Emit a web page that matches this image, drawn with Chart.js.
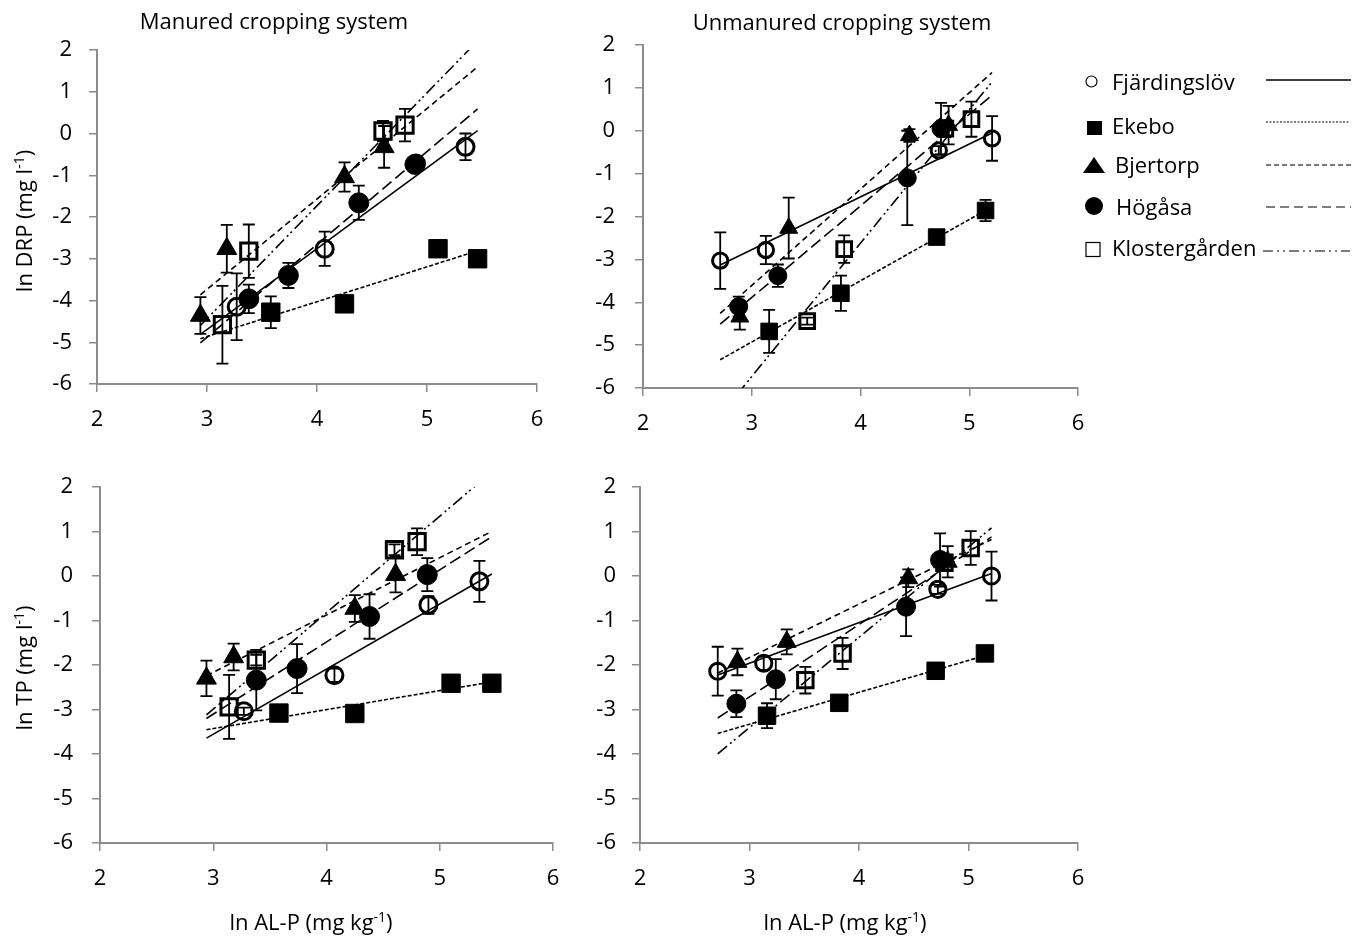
<!DOCTYPE html>
<html>
<head>
<meta charset="utf-8">
<script src="https://cdn.jsdelivr.net/npm/chart.js@4.4.1/dist/chart.umd.min.js"></script>
<style>
    body { margin: 0; background: #fff; }
    #page { position: relative; width: 1361px; height: 942px; overflow: hidden; background: #fff; }
    #page canvas, #page svg { position: absolute; left: 0; top: 0; }
    svg text { font-family: 'Open Sans', sans-serif; font-size: 22px; fill: #000; }
</style>
</head>
<body>
<div id="page">
    <canvas id="p1" width="1361" height="942"></canvas>
    <canvas id="p2" width="1361" height="942"></canvas>
    <canvas id="p3" width="1361" height="942"></canvas>
    <canvas id="p4" width="1361" height="942"></canvas>
    <svg width="1361" height="942" viewBox="0 0 1361 942">
        <text x="274" y="29" text-anchor="middle">Manured cropping system</text>
        <text x="842" y="30" text-anchor="middle">Unmanured cropping system</text>
        <text transform="translate(32,221) rotate(-90)" text-anchor="middle">ln DRP (mg l<tspan dy="-8" font-size="14">-1</tspan><tspan dy="8">)</tspan></text>
        <text transform="translate(32,668) rotate(-90)" text-anchor="middle">ln TP (mg l<tspan dy="-8" font-size="14">-1</tspan><tspan dy="8">)</tspan></text>
        <text x="311" y="930" text-anchor="middle">ln AL-P (mg kg<tspan dy="-8" font-size="14">-1</tspan><tspan dy="8">)</tspan></text>
        <text x="845" y="930" text-anchor="middle">ln AL-P (mg kg<tspan dy="-8" font-size="14">-1</tspan><tspan dy="8">)</tspan></text>

        <!-- legend -->
        <circle cx="1091.5" cy="81.5" r="5.5" fill="none" stroke="#000" stroke-width="1.2"/>
        <text x="1112" y="90">Fjärdingslöv</text>
        <line x1="1266" y1="80" x2="1351" y2="80" stroke="#000" stroke-width="1.3"/>

        <rect x="1087" y="121" width="15" height="14" fill="#000"/>
        <text x="1112" y="134">Ekebo</text>
        <line x1="1266" y1="122" x2="1350" y2="122" stroke="#000" stroke-width="1" stroke-dasharray="2 1.5"/>

        <polygon points="1083,173 1105,173 1094,157" fill="#000"/>
        <text x="1115" y="173">Bjertorp</text>
        <line x1="1266" y1="165" x2="1351" y2="165" stroke="#000" stroke-width="1.2" stroke-dasharray="5 3"/>

        <circle cx="1094" cy="206" r="9" fill="#000"/>
        <text x="1116" y="215">Högåsa</text>
        <line x1="1266" y1="207" x2="1351" y2="207" stroke="#000" stroke-width="1.2" stroke-dasharray="9 5"/>

        <rect x="1086" y="242.5" width="14" height="14" fill="none" stroke="#000" stroke-width="1.2"/>
        <text x="1112" y="256">Klostergården</text>
        <line x1="1263" y1="251" x2="1350" y2="251" stroke="#000" stroke-width="1.2" stroke-dasharray="10 4 2 4 2 4"/>
    </svg>
</div>
<script>
    const sites = ['Fjärdingslöv', 'Ekebo', 'Bjertorp', 'Högåsa', 'Klostergården'];

    // ln AL-P per site (same soils for DRP and TP)
    const manuredAlP = [
        [3.27, 4.07, 4.90, 5.35],
        [3.58, 4.25, 5.10, 5.46],
        [2.94, 3.18, 4.25, 4.61],
        [3.38, 3.74, 4.38, 4.89],
        [3.14, 3.38, 4.60, 4.80]
    ];
    const unmanuredAlP = [
        [2.71, 3.13, 4.72, 5.21],
        [3.16, 3.82, 4.70, 5.15],
        [2.89, 3.34, 4.45, 4.81],
        [2.88, 3.24, 4.43, 4.74],
        [3.51, 3.85, 4.78, 5.02]
    ];

    // ln DRP
    const manuredDrp = [
        [-4.15, -2.76, -0.72, -0.32],
        [-4.28, -4.08, -2.76, -3.00],
        [-4.36, -2.76, -1.04, -0.32],
        [-3.96, -3.40, -1.66, -0.74],
        [-4.58, -2.82, 0.06, 0.20]
    ];
    const manuredDrpErr = [
        [0.80, 0.41, 0.12, 0.32],
        [0.38, 0.08, 0.08, 0.15],
        [0.44, 0.57, 0.35, 0.50],
        [0.34, 0.30, 0.41, 0.10],
        [0.93, 0.64, 0.24, 0.39]
    ];
    const unmanuredDrp = [
        [-3.03, -2.78, -0.46, -0.18],
        [-4.68, -3.79, -2.48, -1.86],
        [-4.34, -2.27, -0.11, 0.13],
        [-4.10, -3.38, -1.10, 0.05],
        [-4.44, -2.76, 0.05, 0.27]
    ];
    const unmanuredDrpErr = [
        [0.66, 0.33, 0.10, 0.52],
        [0.50, 0.41, 0.08, 0.25],
        [0.30, 0.71, 0.15, 0.45],
        [0.23, 0.26, 1.10, 0.60],
        [0.08, 0.32, 0.20, 0.41]
    ];

    // ln TP
    const manuredTp = [
        [-3.04, -2.23, -0.65, -0.12],
        [-3.08, -3.09, -2.41, -2.41],
        [-2.30, -1.82, -0.73, 0.03],
        [-2.34, -2.08, -0.91, 0.03],
        [-2.94, -1.89, 0.59, 0.77]
    ];
    const manuredTpErr = [
        [0.08, 0.15, 0.20, 0.46],
        [0.05, 0.05, 0.05, 0.05],
        [0.40, 0.30, 0.30, 0.40],
        [0.68, 0.55, 0.50, 0.37],
        [0.72, 0.12, 0.12, 0.30]
    ];
    const unmanuredTp = [
        [-2.14, -1.96, -0.30, 0.00],
        [-3.14, -2.85, -2.13, -1.74],
        [-1.93, -1.48, -0.05, 0.32],
        [-2.87, -2.32, -0.69, 0.36],
        [-2.34, -1.74, 0.30, 0.63]
    ];
    const unmanuredTpErr = [
        [0.55, 0.15, 0.10, 0.55],
        [0.28, 0.15, 0.08, 0.12],
        [0.30, 0.28, 0.20, 0.35],
        [0.30, 0.45, 0.66, 0.60],
        [0.30, 0.35, 0.15, 0.38]
    ];

    const xTicks = [2, 3, 4, 5, 6];
    const yTicks = [-6, -5, -4, -3, -2, -1, 0, 1, 2];

    // marker / line look per site
    const markerStyle = ['circle', 'rect', 'triangle', 'circle', 'rect'];
    const markerFilled = [false, true, true, true, false];
    const markerRadius = [8.5, 13, 11.5, 10, 11.5];
    const lineDash = [[], [4, 2], [6, 4], [12, 5], [12, 4, 2, 3, 2, 4]];

    const W = 1361, H = 942, Y_W = 60, X_H = 50;
    const AXIS = '#8c8c8c';

    function fit(xs, ys) {
        const n = xs.length;
        const mx = xs.reduce((a, b) => a + b, 0) / n;
        const my = ys.reduce((a, b) => a + b, 0) / n;
        let sxy = 0, sxx = 0;
        for (let i = 0; i < n; i++) {
            sxy += (xs[i] - mx) * (ys[i] - my);
            sxx += (xs[i] - mx) * (xs[i] - mx);
        }
        const b = sxy / sxx;
        return { a: my - b * mx, b: b };
    }

    // vertical error bars with caps
    const errorBars = {
        id: 'errorBars',
        afterDatasetsDraw(chart) {
            const ctx = chart.ctx;
            const xs = chart.scales.x, ys = chart.scales.y;
            ctx.save();
            ctx.strokeStyle = '#000';
            ctx.lineWidth = 1.8;
            chart.data.datasets.forEach(ds => {
                if (!ds.errors) return;
                ds.data.forEach((p, i) => {
                    const e = ds.errors[i];
                    const px = xs.getPixelForValue(p.x);
                    const t = ys.getPixelForValue(p.y + e);
                    const b = ys.getPixelForValue(p.y - e);
                    ctx.beginPath();
                    ctx.moveTo(px, t); ctx.lineTo(px, b);
                    ctx.moveTo(px - 6, t); ctx.lineTo(px + 6, t);
                    ctx.moveTo(px - 6, b); ctx.lineTo(px + 6, b);
                    ctx.stroke();
                });
            });
            ctx.restore();
        }
    };

    function makePanel(id, box, alp, vals, errs, scale) {
        const all = alp.flat();
        const xmin = Math.min(...all), xmax = Math.max(...all);
        const datasets = [];
        sites.forEach((name, s) => {
            const f = fit(alp[s], vals[s]);
            datasets.push({
                label: name,
                order: 0,
                data: alp[s].map((x, i) => ({ x: x, y: vals[s][i] })),
                errors: errs[s],
                showLine: false,
                pointStyle: markerStyle[s],
                pointRadius: markerRadius[s] * scale,
                pointBorderWidth: markerFilled[s] ? 1 : 3,
                pointBorderColor: '#000',
                pointBackgroundColor: markerFilled[s] ? '#000' : 'rgba(0,0,0,0)'
            });
            datasets.push({
                label: name + ' trend',
                order: 1,
                data: [
                    { x: xmin, y: f.a + f.b * xmin },
                    { x: xmax, y: f.a + f.b * xmax }
                ],
                showLine: true,
                borderColor: '#000',
                borderWidth: 1.6,
                borderDash: lineDash[s],
                pointRadius: 0
            });
        });

        new Chart(document.getElementById(id), {
            type: 'scatter',
            data: { datasets: datasets },
            options: {
                responsive: false,
                animation: false,
                devicePixelRatio: 1,
                events: [],
                layout: {
                    padding: {
                        left: box.left - Y_W,
                        top: box.top,
                        right: W - box.right,
                        bottom: H - box.bottom - X_H
                    }
                },
                plugins: { legend: { display: false }, tooltip: { enabled: false } },
                scales: {
                    x: {
                        type: 'linear',
                        min: xTicks[0],
                        max: xTicks[xTicks.length - 1],
                        afterBuildTicks: sc => { sc.ticks = xTicks.map(v => ({ value: v })); },
                        afterFit: sc => { sc.height = X_H; },
                        ticks: { color: '#000', padding: 15, font: { family: 'Open Sans', size: 22 } },
                        grid: { drawOnChartArea: false, tickLength: 8, color: AXIS, lineWidth: 1.5 },
                        border: { color: AXIS, width: 2 }
                    },
                    y: {
                        type: 'linear',
                        min: yTicks[0],
                        max: yTicks[yTicks.length - 1],
                        afterBuildTicks: sc => { sc.ticks = yTicks.map(v => ({ value: v })); },
                        afterFit: sc => { sc.width = Y_W; },
                        ticks: { color: '#000', padding: box.ypad, font: { family: 'Open Sans', size: 22 } },
                        grid: { drawOnChartArea: false, tickLength: 8, color: AXIS, lineWidth: 1.5 },
                        border: { color: AXIS, width: 2 }
                    }
                }
            },
            plugins: [errorBars]
        });
    }

    makePanel('p1', { left: 97, right: 537, top: 50, bottom: 384, ypad: 17 },
        manuredAlP, manuredDrp, manuredDrpErr, 1.0);
    makePanel('p2', { left: 643, right: 1078, top: 45, bottom: 388, ypad: 20 },
        unmanuredAlP, unmanuredDrp, unmanuredDrpErr, 0.9);
    makePanel('p3', { left: 100, right: 553, top: 487, bottom: 843, ypad: 19 },
        manuredAlP, manuredTp, manuredTpErr, 1.0);
    makePanel('p4', { left: 640, right: 1078, top: 487, bottom: 843, ypad: 16 },
        unmanuredAlP, unmanuredTp, unmanuredTpErr, 0.95);
</script>
</body>
</html>
